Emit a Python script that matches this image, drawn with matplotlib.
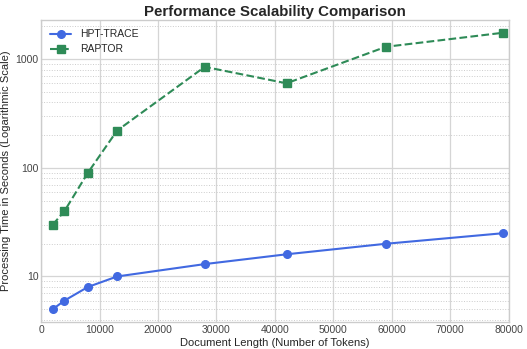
import matplotlib
matplotlib.use("Agg")
import matplotlib.pyplot as plt
from matplotlib.ticker import FuncFormatter, NullFormatter

# document lengths (tokens)
doc_lengths = [2000, 4000, 8000, 13000, 28000, 42000, 59000, 79000]
# processing time in seconds
hpt_trace = [5, 6, 8, 10, 13, 16, 20, 25]
raptor = [30, 40, 90, 220, 850, 600, 1300, 1750]

plt.style.use("seaborn-v0_8-whitegrid")
plt.rcParams["font.family"] = ["Liberation Sans", "DejaVu Sans"]

fig, ax = plt.subplots(figsize=(5.27, 3.49), dpi=100)

ax.plot(doc_lengths, hpt_trace, marker="o", linestyle="-", color="royalblue",
        linewidth=1.5, markersize=5.5, label="HPT-TRACE")
ax.plot(doc_lengths, raptor, marker="s", linestyle="--", color="seagreen",
        linewidth=1.5, markersize=5.5, label="RAPTOR")

ax.set_yscale("log")
ax.set_xlim(0, 80000)
ax.set_ylim(3.8, 2300)
ax.yaxis.set_major_formatter(FuncFormatter(lambda v, p: f"{v:g}"))
ax.yaxis.set_minor_formatter(NullFormatter())

ax.grid(True, which="major", color="#d5d5d5", linewidth=0.9)
ax.grid(True, which="minor", color="#cccccc", linestyle=":", linewidth=0.7)
for s in ax.spines.values():
    s.set_visible(True)
    s.set_color("#cccccc")

ax.set_title("Performance Scalability Comparison", fontsize=10.8, fontweight="bold", pad=3)
ax.set_xlabel("Document Length (Number of Tokens)", fontsize=8, labelpad=2)
ax.set_ylabel("Processing Time in Seconds (Logarithmic Scale)", fontsize=8, labelpad=3)
ax.tick_params(axis="both", labelsize=7.5, pad=2, colors="#444444")
ax.legend(loc="upper left", fontsize=7.5, frameon=False)

fig.subplots_adjust(left=0.078, right=0.965, top=0.943, bottom=0.077)
fig.savefig("out.png", dpi=100)
